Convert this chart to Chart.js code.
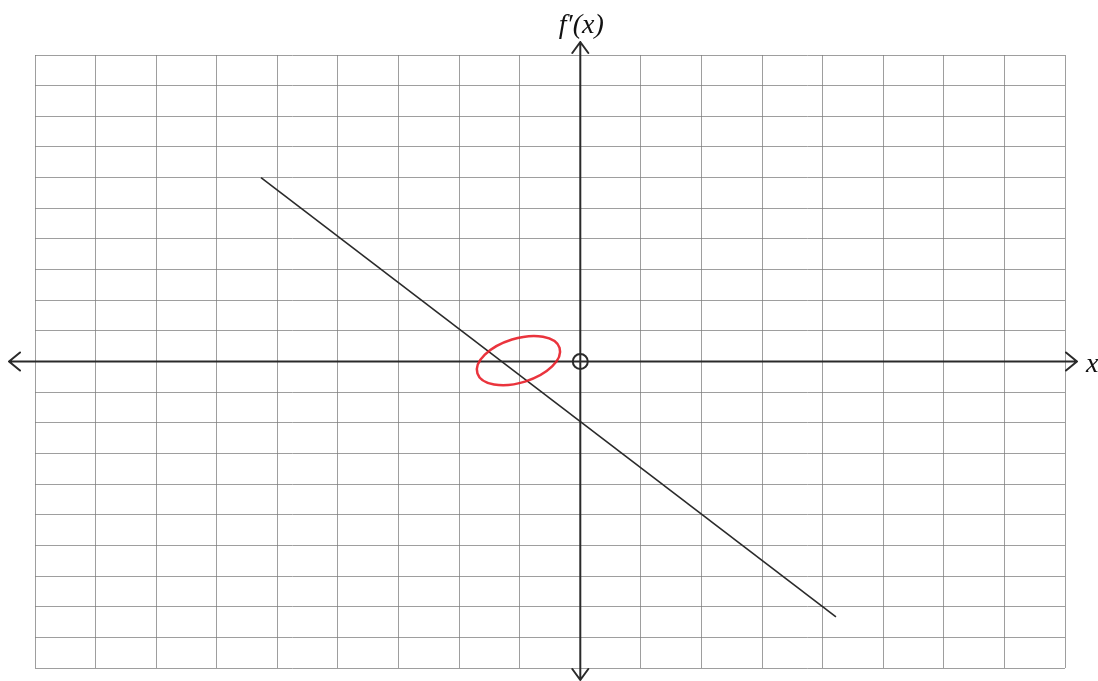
<!DOCTYPE html>
<html>
<head>
<meta charset="utf-8">
<script src="https://cdn.jsdelivr.net/npm/chart.js@4/dist/chart.umd.min.js"></script>
<style>
  html, body { margin: 0; padding: 0; background: #fff; }
  #graph { display: block; }
</style>
</head>
<body>
<canvas id="graph" width="1098" height="681"></canvas>
<script>
// ─── data (graph-paper units) ───
const xRange = [-9, 8];
const yRange = [-10, 10];
const lineX = [-5.27, 4.22];        // f'(x) segment, slope -3/2, intercept -2
const lineY = [6, -8.33];
const originMark = [0, 0];
const circledPoint = [-1.02, 0.03]; // red hand-drawn ring around the zero

const ink = '#2a2a2a';
const gridColor = 'rgba(125,125,125,0.75)';

// axes with arrow heads, labels and the red ring
const paperPlugin = {
  id: 'paper',
  beforeDatasetsDraw(chart) {
    const { ctx, scales: { x, y } } = chart;
    const ox = x.getPixelForValue(0), oy = y.getPixelForValue(0);
    ctx.save();
    ctx.strokeStyle = ink;
    ctx.lineWidth = 2;
    ctx.lineCap = 'round';
    ctx.lineJoin = 'round';
    ctx.beginPath();
    ctx.moveTo(9, oy); ctx.lineTo(1077, oy);
    ctx.moveTo(ox, 42); ctx.lineTo(ox, 680);
    // arrows
    ctx.moveTo(20, oy - 9); ctx.lineTo(9, oy); ctx.lineTo(20, oy + 9);
    ctx.moveTo(1066, oy - 9); ctx.lineTo(1077, oy); ctx.lineTo(1066, oy + 9);
    ctx.moveTo(ox - 8, 53); ctx.lineTo(ox, 42); ctx.lineTo(ox + 8, 53);
    ctx.moveTo(ox - 8, 669); ctx.lineTo(ox, 680); ctx.lineTo(ox + 8, 669);
    ctx.stroke();

    ctx.fillStyle = '#111';
    ctx.font = 'italic 28px "Liberation Serif", "DejaVu Serif", serif';
    ctx.textAlign = 'center';
    ctx.textBaseline = 'alphabetic';
    ctx.fillText('f\u2032(x)', ox + 1, 33);
    ctx.textAlign = 'left';
    ctx.fillText('x', 1086, 372);
    ctx.restore();
  },
  afterDatasetsDraw(chart) {
    const { ctx, scales: { x, y } } = chart;
    const cx = x.getPixelForValue(circledPoint[0]);
    const cy = y.getPixelForValue(circledPoint[1]);
    ctx.save();
    ctx.strokeStyle = 'rgba(232,30,40,0.9)';
    ctx.lineWidth = 2.5;
    ctx.beginPath();
    ctx.ellipse(cx, cy, 43, 22, -0.3, 0, Math.PI * 2);
    ctx.stroke();
    ctx.restore();
  }
};

new Chart(document.getElementById('graph'), {
  type: 'scatter',
  data: {
    datasets: [
      {
        data: lineX.map((v, i) => ({ x: v, y: lineY[i] })),
        showLine: true,
        borderColor: ink,
        borderWidth: 1.6,
        pointRadius: 0,
      },
      {
        data: [{ x: originMark[0], y: originMark[1] }],
        pointRadius: 7.5,
        pointBorderWidth: 2,
        pointBorderColor: ink,
        pointBackgroundColor: 'rgba(0,0,0,0)',
      }
    ]
  },
  options: {
    responsive: false,
    animation: false,
    layout: { padding: { left: 35, right: 33, top: 55, bottom: 13 } },
    plugins: { legend: { display: false }, tooltip: { enabled: false } },
    scales: {
      x: {
        type: 'linear', min: xRange[0], max: xRange[1],
        ticks: { display: false, stepSize: 1 },
        grid: { color: gridColor, lineWidth: 1, drawTicks: false },
        border: { display: false }
      },
      y: {
        type: 'linear', min: yRange[0], max: yRange[1],
        ticks: { display: false, stepSize: 1 },
        grid: { color: gridColor, lineWidth: 1, drawTicks: false },
        border: { display: false }
      }
    }
  },
  plugins: [paperPlugin]
});
</script>
</body>
</html>
